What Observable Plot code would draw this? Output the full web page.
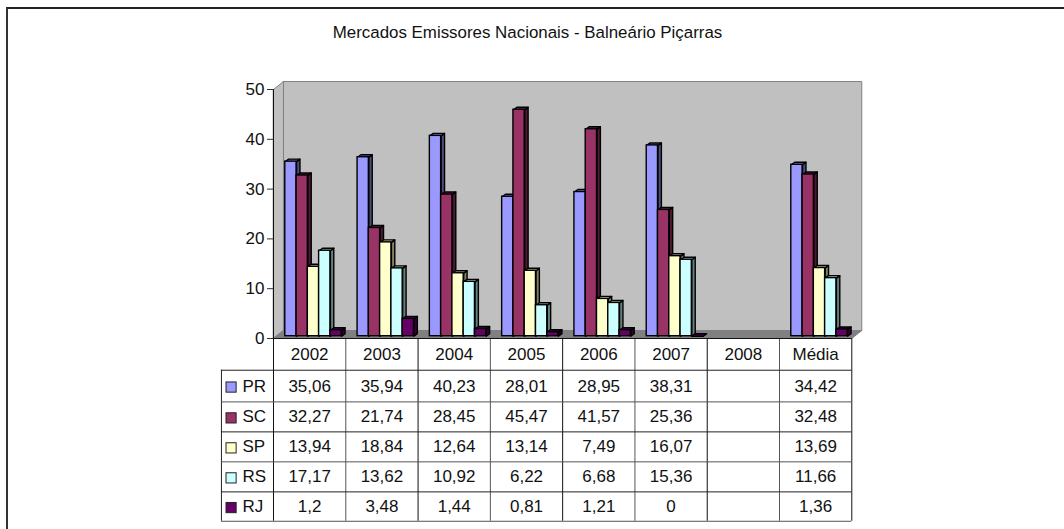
<!DOCTYPE html>
<html>
<head>
<meta charset="utf-8">
<script src="https://cdn.jsdelivr.net/npm/d3@7"></script>
<script src="https://cdn.jsdelivr.net/npm/@observablehq/plot@0.6"></script>
<style>
  html, body { margin: 0; padding: 0; background: #fff; overflow: hidden; }
  #chart { position: relative; width: 1064px; height: 529px; }
  #chart svg { display: block; }
  #edge { position: absolute; left: 6px; top: 7px; right: 0; bottom: 0;
          border-left: 2px solid #333; border-top: 2px solid #222; pointer-events: none; }
</style>
</head>
<body>
<div id="chart"><div id="edge"></div></div>
<script>
const chartTitle = "Mercados Emissores Nacionais - Balneário Piçarras";
const categories = ["2002", "2003", "2004", "2005", "2006", "2007", "2008", "Média"];
const seriesNames = ["PR", "SC", "SP", "RS", "RJ"];
const PR = [35.06, 35.94, 40.23, 28.01, 28.95, 38.31, null, 34.42];
const SC = [32.27, 21.74, 28.45, 45.47, 41.57, 25.36, null, 32.48];
const SP = [13.94, 18.84, 12.64, 13.14, 7.49, 16.07, null, 13.69];
const RS = [17.17, 13.62, 10.92, 6.22, 6.68, 15.36, null, 11.66];
const RJ = [1.2, 3.48, 1.44, 0.81, 1.21, 0, null, 1.36];
const seriesValues = [PR, SC, SP, RS, RJ];
const frontColors = ["#9999FF", "#993366", "#FFFFCC", "#CCFFFF", "#660066"];
const topColors = ["#7373BF", "#73264D", "#BFBF99", "#99BFBF", "#4D004D"];
const sideColors = ["#4D4D80", "#4D1A33", "#808066", "#668080", "#330033"];
const yTicks = [0, 10, 20, 30, 40, 50];

// layout in scale units (x: one unit per category, y: percent)
const wallDX = 0.138, wallDY = 1.6;
const barStart = 0.163, barW = 0.156, barDX = 0.047, barDY = 0.5, barBase = 0.46;
const tableRowEdges = [0, -6.37, -12.73, -18.75, -24.77, -30.8, -36.7];
const tableLeft = -0.72, keyW = 0.14, keyH = 2.05;
const barStroke = 1.4;
const fmt = v => v == null ? "" : String(v).replace(".", ",");

const marks = [];

// chart walls and floor
const wallPoly = (id, pts) => pts.map(([x, y]) => ({id, x, y}));
marks.push(
  Plot.line(wallPoly("back", [[wallDX, wallDY], [8 + wallDX, wallDY], [8 + wallDX, 50 + wallDY], [wallDX, 50 + wallDY]]),
    {x: "x", y: "y", z: "id", curve: "linear-closed", fill: "#C0C0C0", stroke: "#808080", strokeWidth: 1}),
  Plot.line(wallPoly("side", [[0, 0], [wallDX, wallDY], [wallDX, 50 + wallDY], [0, 50]]),
    {x: "x", y: "y", z: "id", curve: "linear-closed", fill: "#C0C0C0", stroke: "#808080", strokeWidth: 1}),
  Plot.line(wallPoly("floor", [[0, 0], [8, 0], [8 + wallDX, wallDY], [wallDX, wallDY]]),
    {x: "x", y: "y", z: "id", curve: "linear-closed", fill: "#808080", stroke: "#808080", strokeWidth: 1})
);

// 3D bars, series by series so each front face covers the side before it
seriesNames.forEach((name, s) => {
  const bars = categories.map((c, i) => ({
    key: c, v: seriesValues[s][i],
    x1: i + barStart + s * barW, x2: i + barStart + (s + 1) * barW
  })).filter(d => d.v != null);
  const side = bars.flatMap(d => [
    {id: d.key, x: d.x2, y: barBase},
    {id: d.key, x: d.x2 + barDX, y: barBase + barDY},
    {id: d.key, x: d.x2 + barDX, y: barBase + barDY + d.v},
    {id: d.key, x: d.x2, y: barBase + d.v}
  ]);
  const top = bars.flatMap(d => [
    {id: d.key, x: d.x1, y: barBase + d.v},
    {id: d.key, x: d.x2, y: barBase + d.v},
    {id: d.key, x: d.x2 + barDX, y: barBase + barDY + d.v},
    {id: d.key, x: d.x1 + barDX, y: barBase + barDY + d.v}
  ]);
  const opts = {x: "x", y: "y", z: "id", curve: "linear-closed", stroke: "#000", strokeWidth: barStroke};
  marks.push(
    Plot.line(side, {...opts, fill: sideColors[s]}),
    Plot.line(top, {...opts, fill: topColors[s]}),
    Plot.rect(bars, {x1: "x1", x2: "x2", y1: barBase, y2: d => barBase + d.v,
      fill: frontColors[s], stroke: "#000", strokeWidth: barStroke})
  );
});

// data table grid
const bottom = tableRowEdges[tableRowEdges.length - 1];
const colEdges = d3.range(0, 9);
marks.push(
  Plot.ruleX(colEdges, {x: d => d, y1: 0, y2: bottom, stroke: d => d % 2 ? "#555" : "#111", strokeWidth: 1}),
  Plot.ruleX([tableLeft], {x: d => d, y1: tableRowEdges[1], y2: bottom, stroke: "#222", strokeWidth: 1}),
  Plot.ruleY(tableRowEdges.slice(1), {y: d => d, x1: tableLeft, x2: 8, stroke: (d, i) => i % 2 ? "#555" : "#222", strokeWidth: 1}),
  Plot.ruleY([0], {x1: 0, x2: 8, stroke: "#111", strokeWidth: 1}),
  Plot.ruleX([0], {y1: 0, y2: 50, stroke: "#111", strokeWidth: 1})
);

// header, row keys and cells
const rowMid = r => (tableRowEdges[r] + tableRowEdges[r + 1]) / 2;
marks.push(
  Plot.text(categories, {x: (d, i) => i + 0.5, y: rowMid(0), text: d => d, fill: "#111", textAnchor: "middle"}),
  Plot.rect(seriesNames, {
    x1: () => tableLeft + 0.07, x2: () => tableLeft + 0.07 + keyW,
    y1: (d, s) => rowMid(s + 1) - keyH / 2 - 0.3, y2: (d, s) => rowMid(s + 1) + keyH / 2 - 0.3,
    fill: (d, s) => frontColors[s], stroke: "#222", strokeWidth: 1
  }),
  Plot.text(seriesNames, {x: tableLeft + 0.29, y: (d, s) => rowMid(s + 1) - (s === 0 ? 0.15 : 0), text: d => d, textAnchor: "start", fill: "#111"})
);
const cells = seriesNames.flatMap((name, s) =>
  categories.map((c, i) => ({i, s, label: fmt(seriesValues[s][i])})).filter(d => d.label !== ""));
marks.push(
  Plot.text(cells, {x: d => d.i + 0.5, y: d => rowMid(d.s + 1) - (d.s === 0 ? 0.15 : 0), text: "label", textAnchor: "middle", fill: "#111"}),
  Plot.axisY({ticks: yTicks, tickFormat: d => d, tickSize: 6, tickPadding: 3, label: null, anchor: "left", stroke: "#333", fill: "#111"}),
  Plot.text([chartTitle], {x: 3.514, y: 61.5, text: d => d, fontSize: 16.9, textAnchor: "middle", fill: "#111"})
);

const svg = Plot.plot({
  width: 1064,
  height: 529,
  marginLeft: 273,
  marginRight: 212.3,
  marginTop: 89,
  marginBottom: 191,
  x: {domain: [0, 8], range: [273, 851.3], axis: null},
  y: {domain: [0, 50], range: [338, 89], axis: null},
  style: {fontFamily: "'Liberation Sans', Arial, sans-serif", fontSize: "17px", background: "transparent", overflow: "visible"},
  marks
});
document.getElementById("chart").prepend(svg);
</script>
</body>
</html>
